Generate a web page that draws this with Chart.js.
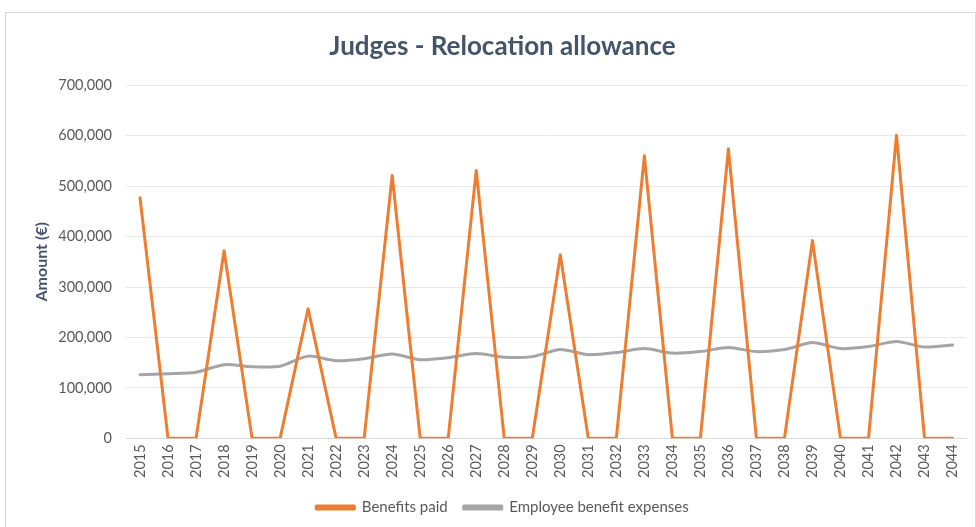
<!DOCTYPE html>
<html>
<head>
<meta charset="utf-8">
<script src="https://cdn.jsdelivr.net/npm/chart.js@4.4.1/dist/chart.umd.min.js"></script>
<style>
  html, body { margin: 0; padding: 0; background: #fff; }
  #wrap { position: relative; width: 976px; height: 527px; }
</style>
</head>
<body>
<div id="wrap"><canvas id="chart" width="976" height="527"></canvas></div>
<script>
// data
const years = [];
for (let y = 2015; y <= 2044; y++) years.push(String(y));

const benefitsPaid = [
  477000, 0, 0, 372000, 0, 0, 257000, 0, 0, 521000,
  0, 0, 531000, 0, 0, 364000, 0, 0, 560000, 0,
  0, 574000, 0, 0, 392000, 0, 0, 601000, 0, 0
];

const employeeExpenses = [
  126000, 128000, 131000, 146000, 142000, 143000, 163000, 154000, 158000, 167000,
  156000, 160000, 168000, 161000, 162000, 176000, 166000, 170000, 178000, 169000,
  172000, 180000, 172000, 176000, 190000, 178000, 182000, 192000, 181000, 185000
];

const yTicks = [0, 100000, 200000, 300000, 400000, 500000, 600000, 700000];

const FONT = "Lato, 'Open Sans', sans-serif";
const TEXT = '#595959';
const TITLE = '#44546A';

// white background and thin frame like the spreadsheet chart box
const frame = {
  id: 'frame',
  beforeDraw(chart) {
    const ctx = chart.ctx;
    ctx.save();
    ctx.fillStyle = '#fff';
    ctx.fillRect(0, 0, chart.width, chart.height);
    ctx.strokeStyle = '#d9d9d9';
    ctx.lineWidth = 1;
    ctx.strokeRect(5.5, 12.5, chart.width - 6, chart.height);
    ctx.restore();
  }
};

new Chart(document.getElementById('chart'), {
  type: 'line',
  data: {
    labels: years,
    datasets: [
      {
        label: 'Benefits paid',
        data: benefitsPaid,
        borderColor: '#ED7D31',
        backgroundColor: '#ED7D31',
        borderWidth: 3,
        pointRadius: 0,
        tension: 0,
        borderJoinStyle: 'round',
        borderCapStyle: 'round'
      },
      {
        label: 'Employee benefit expenses',
        data: employeeExpenses,
        borderColor: '#A5A5A5',
        backgroundColor: '#A5A5A5',
        borderWidth: 3,
        pointRadius: 0,
        tension: 0.25,
        borderJoinStyle: 'round',
        borderCapStyle: 'round'
      }
    ]
  },
  options: {
    responsive: false,
    animation: false,
    layout: { padding: { top: 31, left: 32, right: 3, bottom: 2 } },
    plugins: {
      title: {
        display: true,
        text: 'Judges - Relocation allowance',
        color: TITLE,
        font: { family: FONT, size: 26, weight: 'bold' },
        padding: { top: 0, bottom: 23 }
      },
      legend: {
        position: 'bottom',
        labels: {
          color: TEXT,
          font: { family: FONT, size: 15 },
          boxWidth: 38,
          boxHeight: 3,
          padding: 16
        }
      },
      tooltip: { enabled: false }
    },
    scales: {
      x: {
        offset: true,
        grid: { display: false, drawTicks: false },
        border: { display: true, color: '#d9d9d9' },
        ticks: {
          color: TEXT,
          font: { family: FONT, size: 14.5 },
          minRotation: 90,
          maxRotation: 90,
          autoSkip: false,
          padding: 6
        }
      },
      y: {
        min: 0,
        max: 700000,
        afterBuildTicks(scale) {
          scale.ticks = yTicks.map(v => ({ value: v }));
        },
        afterFit(scale) { scale.width = 94; },
        grid: { color: '#e8e8e8', drawTicks: false },
        border: { display: false },
        ticks: {
          color: TEXT,
          font: { family: FONT, size: 14.5 },
          padding: 14,
          callback: v => v.toLocaleString('en-US')
        },
        title: {
          display: true,
          text: 'Amount (€)',
          color: TITLE,
          font: { family: FONT, size: 16, weight: 'bold' },
          padding: { top: 0, bottom: 4 }
        }
      }
    }
  },
  plugins: [frame]
});
</script>
</body>
</html>
